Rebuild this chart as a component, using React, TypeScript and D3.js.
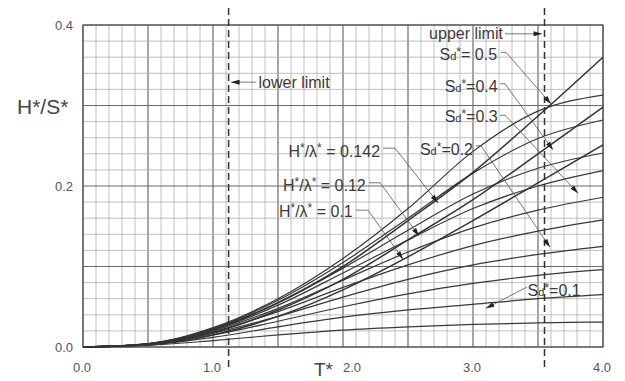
import React, { Component } from 'react';
import * as d3 from 'd3';

// T* sample points (x axis)
const tValues = [0, 0.5, 1.0, 1.5, 2.0, 2.5, 3.0, 3.5, 4.0];

// H*/lambda* curves (steepness limits)
const steepLabels = ['0.142', '0.12', '0.1'];
const steep142 = [0, 0.004, 0.022, 0.055, 0.100, 0.157, 0.217, 0.287, 0.360];
const steep120 = [0, 0.0035, 0.018, 0.046, 0.084, 0.133, 0.183, 0.240, 0.298];
const steep100 = [0, 0.003, 0.015, 0.038, 0.071, 0.112, 0.157, 0.204, 0.251];

// Sd* curves
const sdLabels = ['0.5', '0.45', '0.4', '0.35', '0.3', '0.25', '0.2', '0.15', '0.1', '0.05'];
const sd50 = [0, 0.004, 0.024, 0.060, 0.110, 0.172, 0.243, 0.293, 0.313];
const sd45 = [0, 0.004, 0.023, 0.058, 0.105, 0.160, 0.216, 0.259, 0.282];
const sd40 = [0, 0.004, 0.022, 0.055, 0.098, 0.145, 0.190, 0.222, 0.241];
const sd35 = [0, 0.004, 0.021, 0.052, 0.092, 0.133, 0.172, 0.200, 0.219];
const sd30 = [0, 0.0035, 0.020, 0.048, 0.083, 0.118, 0.148, 0.170, 0.186];
const sd25 = [0, 0.0035, 0.019, 0.044, 0.074, 0.102, 0.126, 0.144, 0.158];
const sd20 = [0, 0.003, 0.017, 0.038, 0.062, 0.084, 0.102, 0.115, 0.125];
const sd15 = [0, 0.003, 0.015, 0.032, 0.050, 0.066, 0.079, 0.089, 0.096];
const sd10 = [0, 0.0025, 0.012, 0.025, 0.037, 0.046, 0.053, 0.060, 0.065];
const sd05 = [0, 0.002, 0.008, 0.015, 0.021, 0.025, 0.028, 0.030, 0.031];

const xTickLabels = ['0.0', '1.0', '2.0', '3.0', '4.0'];
const yTickLabels = ['0.0', '0.2', '0.4'];

// limits on T*
const lowerLimit = 1.12;
const upperLimit = 3.55;

const ink = '#3a3a3a';
const font = 'Liberation Sans, Arial, sans-serif';

export default class App extends Component {
  render() {
    const margin = { left: 83, right: 22, top: 25, bottom: 34 };
    const wid = 625, hght = 381;
    const x = d3.scaleLinear().domain([0, 4]).range([margin.left, wid - margin.right]);
    const y = d3.scaleLinear().domain([0, 0.4]).range([hght - margin.bottom, margin.top]);

    const line = (vals: number[]) =>
      d3.line<number>()
        .x((d, i) => x(tValues[i]))
        .y(d => y(d))
        .curve(d3.curveMonotoneX)(vals) as string;

    const steepSeries = [steep142, steep120, steep100];
    const sdSeries = [sd50, sd45, sd40, sd35, sd30, sd25, sd20, sd15, sd10, sd05];

    // grid
    const xGrid = d3.range(0, 41).map(i => i / 10);
    const yGrid = d3.range(0, 21).map(i => i / 50);
    const gridLines: any = [];
    xGrid.forEach((t, i) => {
      const major = i % 5 === 0;
      gridLines.push(<line key={'gx' + i} x1={x(t)} x2={x(t)} y1={y(0)} y2={y(0.4)}
        stroke={major ? '#6a6a6a' : '#b0b0b0'} strokeWidth={major ? 1.2 : 0.8} />);
    });
    yGrid.forEach((v, i) => {
      const major = i % 5 === 0;
      gridLines.push(<line key={'gy' + i} x1={x(0)} x2={x(4)} y1={y(v)} y2={y(v)}
        stroke={major ? '#6a6a6a' : '#b0b0b0'} strokeWidth={major ? 1.2 : 0.8} />);
    });

    const curves = sdSeries.map((s, i) => (
      <path key={'sd' + sdLabels[i]} d={line(s)} fill="none" stroke="#383838" strokeWidth={1.2} />
    ));
    const steepCurves = steepSeries.map((s, i) => (
      <path key={'st' + steepLabels[i]} d={line(s)} fill="none" stroke="#333" strokeWidth={1.5} />
    ));

    // annotations in data coordinates: label position and leader polyline
    const leader = (pts: number[][], key: string) => (
      <polyline key={key} points={pts.map(p => `${x(p[0])},${y(p[1])}`).join(' ')}
        fill="none" stroke="#555" strokeWidth={0.8} markerEnd="url(#arr)" />
    );

    const sdText = (label: string, t: number, v: number, anchor: string, key: string) => (
      <text key={key} x={x(t)} y={y(v)} textAnchor={anchor} fontSize={16} fill={ink} fontFamily={font}>
        S<tspan fontSize={11}>d</tspan><tspan fontSize={12} dy={-4}>*</tspan><tspan dy={4}>={label}</tspan>
      </text>
    );
    const hlText = (label: string, t: number, v: number, key: string) => (
      <text key={key} x={x(t)} y={y(v)} textAnchor="end" fontSize={16} fill={ink} fontFamily={font}>
        H<tspan fontSize={12} dy={-5}>*</tspan><tspan dy={5}>/λ</tspan><tspan fontSize={12} dy={-5}>*</tspan><tspan dy={5}> = {label}</tspan>
      </text>
    );

    return (
      <svg width={wid} height={hght} style={{ position: 'absolute', left: 0, top: 0, background: '#fff' }}>
        <defs>
          <marker id="arr" viewBox="0 0 10 6" refX={10} refY={3} markerWidth={10} markerHeight={5}
            markerUnits="userSpaceOnUse" orient="auto">
            <path d="M0,0 L10,3 L0,6 Z" fill="#222" />
          </marker>
        </defs>
        {gridLines}
        <rect x={x(0)} y={y(0.4)} width={x(4) - x(0)} height={y(0) - y(0.4)} fill="none" stroke="#555" strokeWidth={1.2} />

        {curves}
        {steepCurves}

        <line x1={x(lowerLimit)} x2={x(lowerLimit)} y1={8} y2={370} stroke="#333" strokeWidth={1.5} strokeDasharray="7,4" />
        <line x1={x(upperLimit)} x2={x(upperLimit)} y1={8} y2={370} stroke="#333" strokeWidth={1.5} strokeDasharray="7,4" />

        {leader([[1.33, 0.329], [1.14, 0.329]], 'll')}
        <text x={x(1.35)} y={y(0.322)} fontSize={16} fill={ink} fontFamily={font}>lower limit</text>
        {leader([[3.245, 0.389], [3.53, 0.389]], 'ul')}
        <text x={x(3.23)} y={y(0.383)} textAnchor="end" fontSize={16} fill={ink} fontFamily={font}>upper limit</text>

        {sdText(' 0.5', 3.185, 0.357, 'end', 't50')}
        {leader([[3.215, 0.366], [3.254, 0.366], [3.6, 0.302]], 'l50')}
        {sdText('0.4', 3.19, 0.317, 'end', 't40')}
        {leader([[3.208, 0.327], [3.246, 0.327], [3.615, 0.245]], 'l40')}
        {sdText('0.3', 3.19, 0.279, 'end', 't30')}
        {leader([[3.208, 0.288], [3.246, 0.288], [3.808, 0.191]], 'l30')}
        {sdText('0.2', 3.0, 0.238, 'end', 't20')}
        {leader([[3.023, 0.25], [3.062, 0.25], [3.592, 0.124]], 'l20')}
        {sdText('0.1', 3.42, 0.063, 'start', 't10')}
        {leader([[3.415, 0.0745], [3.1, 0.048]], 'l10')}

        {hlText('0.142', 2.285, 0.236, 'h142')}
        {leader([[2.308, 0.247], [2.4, 0.247], [2.731, 0.179]], 'lh142')}
        {hlText('0.12', 2.175, 0.194, 'h12')}
        {leader([[2.2, 0.204], [2.285, 0.204], [2.585, 0.138]], 'lh12')}
        {hlText('0.1', 2.075, 0.162, 'h10')}
        {leader([[2.1, 0.17], [2.192, 0.17], [2.462, 0.109]], 'lh10')}

        {yTickLabels.map(d => (
          <text key={'yt' + d} x={x(0) - 10} y={y(+d) + 5} textAnchor="end" fontSize={13} fill="#555" fontFamily={font}>{d}</text>
        ))}
        {xTickLabels.map(d => (
          <text key={'xt' + d} x={x(+d) + (d === '2.0' ? 0 : -1)} y={372} textAnchor={d === '2.0' ? 'start' : 'middle'}
            fontSize={13} fill="#555" fontFamily={font}>{d}</text>
        ))}
        <text x={17} y={114} fontSize={21} fill="#444" fontFamily={font}>H*/S*</text>
        <text x={314} y={376} fontSize={19} fill="#444" fontFamily={font}>T*</text>
      </svg>
    );
  }
}
